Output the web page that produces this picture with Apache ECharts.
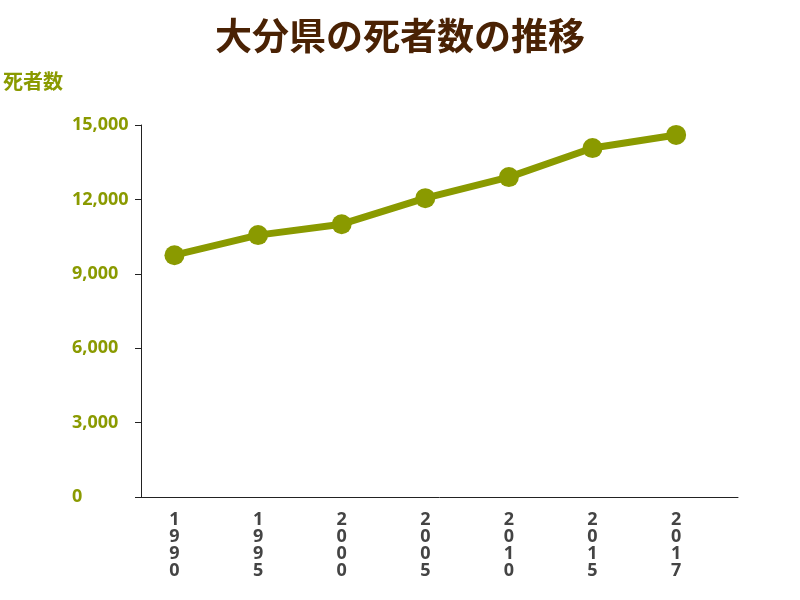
<!DOCTYPE html>
<html><head><meta charset="utf-8">
<script src="https://cdn.jsdelivr.net/npm/echarts@6/dist/echarts.min.js"></script>
<style>html,body{margin:0;background:#fff}#c{width:800px;height:600px}</style>
</head><body><div id="c"></div>
<script>
const categories = ['1990','1995','2000','2005','2010','2015','2017'];
const deaths = [9750, 10560, 11000, 12050, 12900, 14070, 14600];
const yTicks = [0, 3000, 6000, 9000, 12000, 15000];
const olive = '#8a9a00';
const chart = echarts.init(document.getElementById('c'));
chart.setOption({
  backgroundColor: '#fff',
  title: { text: '大分県の死者数の推移', left: 'center', top: 12,
    textStyle: { color: '#4a2204', fontSize: 37, fontWeight: 'bold', fontFamily: 'Noto Sans CJK JP' } },
  grid: { left: 131, right: 62, top: 125, bottom: 103 },
  xAxis: { type: 'value', min: -0.4, max: 6.74, interval: 0.2,
    axisLine: { show: true, onZero: false, lineStyle: { color: '#222', width: 1 } },
    axisTick: { show: false }, splitLine: { show: false },
    axisLabel: { showMinLabel: false, showMaxLabel: false, margin: 14, lineHeight: 17,
      color: '#444', fontSize: 18, fontWeight: 'bold', fontFamily: 'Noto Sans',
      formatter: v => { const i = Math.round(v); return (Math.abs(v - i) < 1e-4 && categories[i]) ? categories[i].split('').join('\n') : ''; } } },
  yAxis: { type: 'value', min: 0, max: 15000, interval: 3000,
    name: '死者数', nameLocation: 'end', nameGap: 34,
    nameTextStyle: { color: olive, fontSize: 20, fontWeight: 'bold', align: 'left', padding: [0,0,0,-138], fontFamily: 'Noto Sans CJK JP' },
    axisLine: { show: true, onZero: false, lineStyle: { color: '#222', width: 1 } },
    axisTick: { show: true, length: 6, lineStyle: { color: '#222' } },
    splitLine: { show: false },
    axisLabel: { align: 'left', margin: 69, color: olive, fontSize: 18, fontWeight: 'bold', fontFamily: 'Noto Sans',
      formatter: v => yTicks.includes(v) ? v.toLocaleString('en-US') : '' } },
  series: [{ type: 'line', data: deaths.map((d, i) => [i, d]),
    lineStyle: { color: olive, width: 7 }, itemStyle: { color: olive },
    symbol: 'circle', symbolSize: 20, animation: false }]
});
</script></body></html>
